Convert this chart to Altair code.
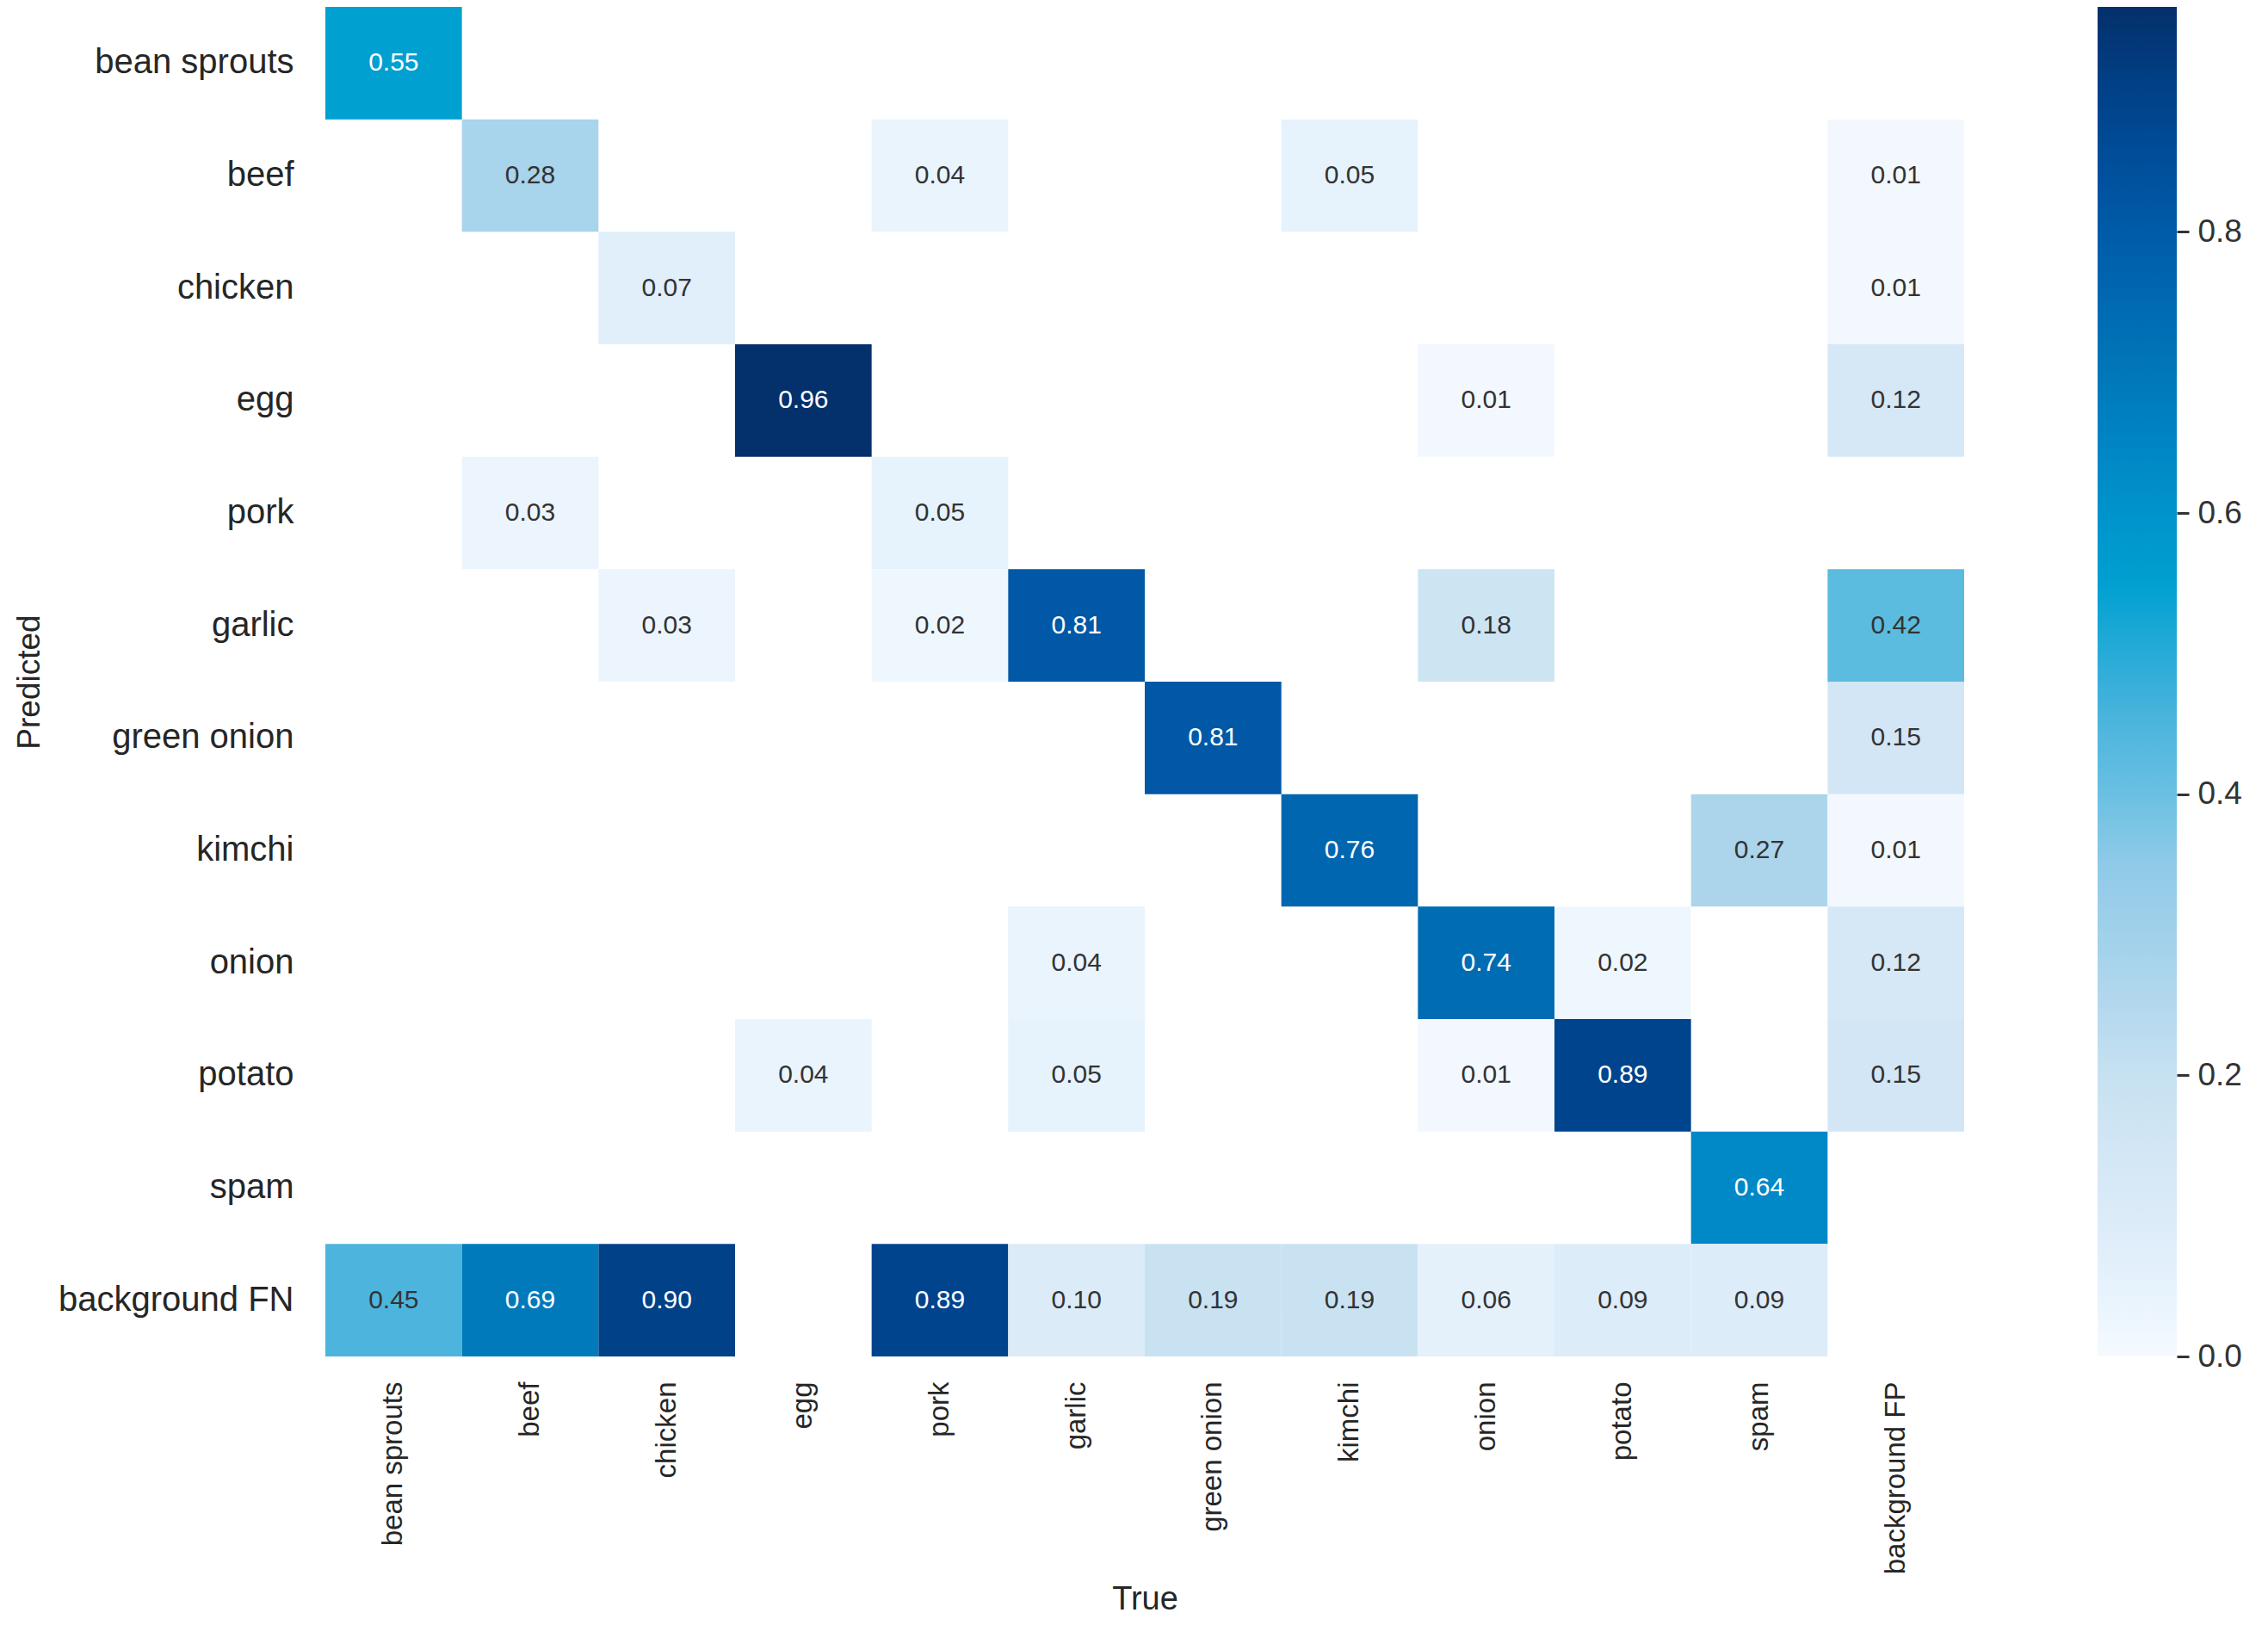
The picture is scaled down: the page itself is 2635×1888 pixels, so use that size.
import altair as alt
import pandas as pd

# Category labels
pred_labels = ["bean sprouts", "beef", "chicken", "egg", "pork", "garlic",
               "green onion", "kimchi", "onion", "potato", "spam", "background FN"]
true_labels = ["bean sprouts", "beef", "chicken", "egg", "pork", "garlic",
               "green onion", "kimchi", "onion", "potato", "spam", "background FP"]

# Non-empty cells of the confusion matrix (Predicted row, True column, value)
cell_pred = [
    "bean sprouts",
    "beef", "beef", "beef", "beef",
    "chicken", "chicken",
    "egg", "egg", "egg",
    "pork", "pork",
    "garlic", "garlic", "garlic", "garlic", "garlic",
    "green onion", "green onion",
    "kimchi", "kimchi", "kimchi",
    "onion", "onion", "onion", "onion",
    "potato", "potato", "potato", "potato", "potato",
    "spam",
    "background FN", "background FN", "background FN", "background FN", "background FN",
    "background FN", "background FN", "background FN", "background FN", "background FN",
]
cell_true = [
    "bean sprouts",
    "beef", "pork", "kimchi", "background FP",
    "chicken", "background FP",
    "egg", "onion", "background FP",
    "beef", "pork",
    "chicken", "pork", "garlic", "onion", "background FP",
    "green onion", "background FP",
    "kimchi", "spam", "background FP",
    "garlic", "onion", "potato", "background FP",
    "egg", "garlic", "onion", "potato", "background FP",
    "spam",
    "bean sprouts", "beef", "chicken", "pork", "garlic",
    "green onion", "kimchi", "onion", "potato", "spam",
]
cell_value = [
    0.55,
    0.28, 0.04, 0.05, 0.01,
    0.07, 0.01,
    0.96, 0.01, 0.12,
    0.03, 0.05,
    0.03, 0.02, 0.81, 0.18, 0.42,
    0.81, 0.15,
    0.76, 0.27, 0.01,
    0.04, 0.74, 0.02, 0.12,
    0.04, 0.05, 0.01, 0.89, 0.15,
    0.64,
    0.45, 0.69, 0.90, 0.89, 0.10,
    0.19, 0.19, 0.06, 0.09, 0.09,
]

colorbar_ticks = [0.0, 0.2, 0.4, 0.6, 0.8]

# colour ramp (style)
ramp_vals = [0.0, 0.05, 0.12, 0.18, 0.27, 0.35, 0.42, 0.45, 0.55, 0.64, 0.69, 0.76, 0.81, 0.89, 0.96]
ramp_cols = ["#f5faff", "#e6f2fc", "#d6e8f6", "#cde4f3", "#acd5ec", "#8fcae8", "#5bbcdf",
             "#4db5dd", "#00a0d0", "#0088c7", "#007aba", "#0066b0", "#0058a6", "#00448d", "#04306b"]

df = pd.DataFrame({"pred": cell_pred, "true": cell_true, "value": cell_value})
ticks_df = pd.DataFrame({"t": colorbar_ticks})

W, H = 1904, 1568
vmax = max(cell_value)

x_enc = alt.X("true:N", sort=true_labels, scale=alt.Scale(domain=true_labels, paddingInner=0, paddingOuter=0),
              axis=alt.Axis(title="True", labelAngle=270, labelFontSize=33, labelPadding=29,
                            ticks=False, tickSize=0, domain=False, labelColor="#262626",
                            titleFontSize=38, titleFontWeight="normal", titleColor="#262626",
                            titleX=W / 2, titleY=293, titleBaseline="alphabetic", titleAlign="center",
                            labelLimit=0))
y_enc = alt.Y("pred:N", sort=pred_labels, scale=alt.Scale(domain=pred_labels, paddingInner=0, paddingOuter=0),
              axis=alt.Axis(title="Predicted", labelFontSize=40, labelPadding=37,
                            ticks=False, tickSize=0, domain=False, labelColor="#262626",
                            titleFontSize=37, titleFontWeight="normal", titleColor="#262626",
                            titleAngle=270, titleX=-333, titleY=H / 2, titleBaseline="alphabetic",
                            titleAlign="center", labelLimit=0))

rects = alt.Chart(df).mark_rect(strokeWidth=0).encode(
    x=x_enc,
    y=y_enc,
    color=alt.Color("value:Q",
                    scale=alt.Scale(domain=ramp_vals, range=ramp_cols, interpolate="rgb"),
                    legend=alt.Legend(orient="none", legendX=2059, legendY=0, title=None,
                                      direction="vertical", gradientLength=H, gradientThickness=92,
                                      gradientStrokeWidth=0, labelOpacity=0, labelFontSize=1,
                                      values=colorbar_ticks)),
)

texts = alt.Chart(df).mark_text(fontSize=30, align="center", baseline="middle").encode(
    x=alt.X("true:N", sort=true_labels),
    y=alt.Y("pred:N", sort=pred_labels),
    text=alt.Text("value:Q", format=".2f"),
    color=alt.condition(alt.datum.value > 0.5, alt.value("#ffffff"), alt.value("#333333")),
)

heat = alt.layer(rects, texts)

cbar_axis = alt.Chart(ticks_df).mark_point(opacity=0).encode(
    y=alt.Y("t:Q", scale=alt.Scale(domain=[0, vmax], nice=False, zero=False),
            axis=alt.Axis(orient="right", offset=247, values=colorbar_ticks, format=".1f",
                          title=None, domain=False, grid=False, tickSize=14, tickWidth=3,
                          tickColor="#333333", labelPadding=10, labelFontSize=37,
                          labelColor="#333333")),
)

chart = alt.layer(heat, cbar_axis).resolve_scale(y="independent").properties(
    width=W, height=H,
    autosize=alt.AutoSizeParams(type="none"),
    padding={"left": 370, "top": 0, "right": 345, "bottom": 300},
).configure(font="Liberation Sans").configure_view(strokeWidth=0)

chart.save("out.html", embed_options={"renderer": "svg", "actions": False})
